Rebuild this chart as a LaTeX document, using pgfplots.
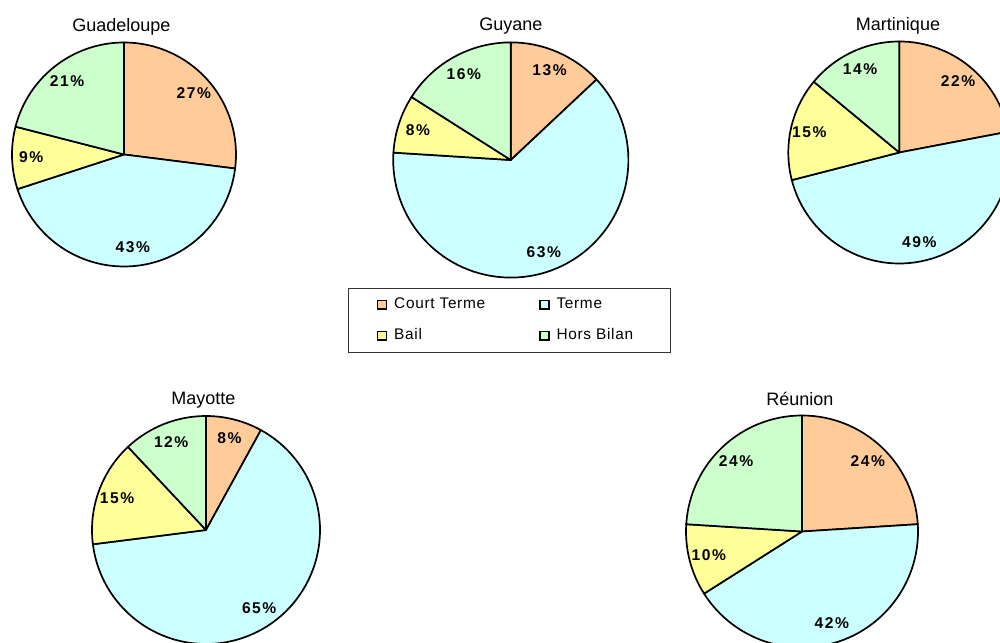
\documentclass[border=0pt]{standalone}
\usepackage{fontspec}
\setmainfont{Liberation Sans}
\newfontfamily\lblfont[LetterSpace=10]{Liberation Sans}
\newfontfamily\legfont[LetterSpace=4.5]{Liberation Sans}
\usepackage{pgfplots}
\pgfplotsset{compat=1.18}

\definecolor{cCT}{HTML}{FFCC99}
\definecolor{cT}{HTML}{CCFFFF}
\definecolor{cB}{HTML}{FFFF99}
\definecolor{cHB}{HTML}{CCFFCC}

% #1 = radius (px units), #2 = list of value/colour, clockwise from 12 o'clock
\newcommand\pieslices[2]{%
  \pgfplotsextra{%
    \xdef\cumangle{90}%
    \foreach \val/\col in {#2}{%
      \pgfmathsetmacro\angA{\cumangle}%
      \pgfmathsetmacro\angB{\cumangle-3.6*\val}%
      \pgfmathsetmacro\angM{(\angA+\angB)/2}%
      \filldraw[fill=\col,draw=black,line width=0.85pt,line join=round]
        (axis cs:0,0) -- ++(\angA:{#1*0.5pt})
        arc[start angle=\angA,end angle=\angB,radius={#1*0.5pt}] -- cycle;
      \path (axis cs:0,0) ++(\angM:{0.83*#1*0.5pt})
        node[font={\lblfont\bfseries\fontsize{7.8}{9.2}\selectfont}] {\val\%};
      \xdef\cumangle{\angB}%
    }%
  }%
}

\begin{document}
\begin{tikzpicture}
\fill[white] (0,0) rectangle (500pt,321pt);
\useasboundingbox (0,0) rectangle (500pt,321pt);
\clip (0,0) rectangle (500pt,321pt);
\pgfplotsset{every axis title shift=0pt,
  pie/.style={hide axis, x=0.5pt, y=0.5pt,
  xmin=-130, xmax=130, ymin=-130, ymax=130, anchor=center, clip=false,
  title style={font=\fontsize{9}{10.8}\selectfont, anchor=base, yshift=0pt}}}

\begin{axis}[pie, at={(62pt,243.75pt)}, title={Guadeloupe},
  title style={at={(axis description cs:0.49,0.9712)}}]
\pieslices{112}{27/cCT,43/cT,9/cB,21/cHB}
\end{axis}

\begin{axis}[pie, at={(255.4pt,241pt)}, title={Guyane},
  title style={at={(axis description cs:0.5,0.9962)}},
  legend columns=2,
  legend image code/.code={\draw[#1,draw=black,line width=0.75pt] (0pt,0pt) rectangle (4.4pt,4.2pt);},
  legend style={at={(0.4958,-0.1173)}, anchor=center, draw=black!80,
    line width=0.5pt, fill=white, inner xsep=14pt, inner ysep=4.3pt,
    font={\legfont\fontsize{7.7}{9.2}\selectfont},
    cells={anchor=base west},
    nodes={inner sep=0pt, text height=6pt, text depth=2pt},
    row sep=7.5pt,
    /tikz/every odd column/.append style={column sep=3.5pt}}]
\pieslices{117.6}{13/cCT,63/cT,8/cB,16/cHB}
\addlegendimage{fill=cCT}
\addlegendentry{\makebox[72.5pt][l]{Court Terme}}
\addlegendimage{fill=cT}
\addlegendentry{\makebox[43pt][l]{Terme}}
\addlegendimage{fill=cB}
\addlegendentry{\makebox[72.5pt][l]{Bail}}
\addlegendimage{fill=cHB}
\addlegendentry{\makebox[43pt][l]{Hors Bilan}}
\end{axis}

\begin{axis}[pie, at={(449.65pt,244.75pt)}, title={Martinique},
  title style={at={(axis description cs:0.495,0.9673)}}]
\pieslices{111}{22/cCT,49/cT,15/cB,14/cHB}
\end{axis}

\begin{axis}[pie, at={(103pt,56pt)}, title={Mayotte},
  title style={at={(axis description cs:0.49,0.9846)}}]
\pieslices{114}{8/cCT,65/cT,15/cB,12/cHB}
\end{axis}

\begin{axis}[pie, at={(401pt,55.25pt)}, title={Réunion},
  title style={at={(axis description cs:0.492,0.9865)}}]
\pieslices{116}{24/cCT,42/cT,10/cB,24/cHB}
\end{axis}
\end{tikzpicture}
\end{document}
